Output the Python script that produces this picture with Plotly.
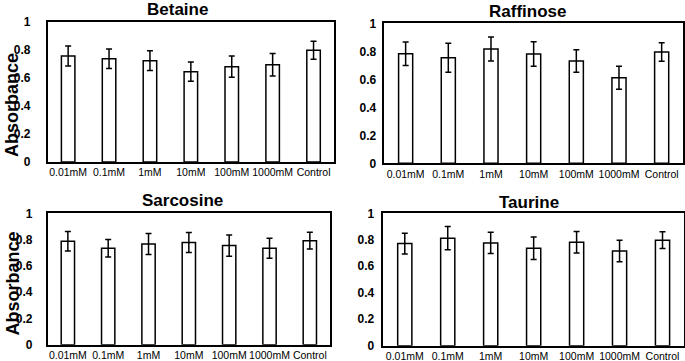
import plotly.graph_objects as go

categories = ["0.01mM", "0.1mM", "1mM", "10mM", "100mM", "1000mM", "Control"]

betaine_vals = [0.757, 0.738, 0.724, 0.645, 0.681, 0.695, 0.798]
betaine_err = [0.072, 0.070, 0.071, 0.069, 0.076, 0.080, 0.064]

raffinose_vals = [0.783, 0.754, 0.816, 0.781, 0.731, 0.611, 0.795]
raffinose_err = [0.084, 0.103, 0.086, 0.088, 0.080, 0.082, 0.066]

sarcosine_vals = [0.787, 0.734, 0.767, 0.777, 0.754, 0.734, 0.792]
sarcosine_err = [0.074, 0.066, 0.080, 0.076, 0.081, 0.076, 0.064]

taurine_vals = [0.771, 0.812, 0.776, 0.736, 0.781, 0.716, 0.797]
taurine_err = [0.078, 0.088, 0.080, 0.085, 0.081, 0.081, 0.063]

titles = ["Betaine", "Raffinose", "Sarcosine", "Taurine"]
y_ticks = [0, 0.2, 0.4, 0.6, 0.8, 1]
y_ticktext = ["0", "0.2", "0.4", "0.6", "0.8", "1"]

W, H = 685, 361
FONT = "Arial, Liberation Sans, sans-serif"

# panel boxes in pixels: (left, right, top, bottom)
boxes = [
    (47.7, 334.0, 22.0, 162.0),
    (384.3, 683.0, 23.3, 163.3),
    (47.7, 330.0, 213.3, 344.7),
    (383.3, 684.0, 213.3, 345.7),
]
title_pos = [(177, 10), (527, 11), (182, 200), (529, 202)]
ylab_gap = [13, 4, 11, 5]

series = [
    (betaine_vals, betaine_err),
    (raffinose_vals, raffinose_err),
    (sarcosine_vals, sarcosine_err),
    (taurine_vals, taurine_err),
]

fig = go.Figure()
layout = dict(
    width=W, height=H,
    margin=dict(l=0, r=0, t=0, b=0, autoexpand=False),
    paper_bgcolor="white", plot_bgcolor="white",
    showlegend=False,
    bargap=0.67,
    font=dict(family=FONT, color="black"),
    annotations=[],
)

for i, ((vals, errs), box) in enumerate(zip(series, boxes)):
    n = "" if i == 0 else str(i + 1)
    fig.add_trace(go.Bar(
        x=categories, y=vals,
        xaxis="x" + n, yaxis="y" + n,
        marker=dict(color="white", line=dict(color="black", width=1.5)),
        error_y=dict(type="data", array=errs, visible=True,
                     color="black", thickness=1.5, width=3),
    ))
    l, r, t, b = box
    layout["xaxis" + n] = dict(
        domain=[l / W, r / W], anchor="y" + n,
        type="category", categoryorder="array", categoryarray=categories,
        showline=True, linecolor="black", linewidth=1.5, mirror=True,
        showgrid=False, ticks="", zeroline=False, tickangle=0, automargin=False,
        tickfont=dict(family=FONT, size=10.5, color="black"),
    )
    layout["yaxis" + n] = dict(
        domain=[1 - b / H, 1 - t / H], anchor="x" + n,
        range=[0, 1], tickvals=y_ticks, ticktext=y_ticktext,
        showline=True, linecolor="black", linewidth=1.5, mirror=True,
        showgrid=False, ticks="outside", ticklen=ylab_gap[i],
        tickcolor="rgba(0,0,0,0)", zeroline=False, automargin=False,
        tickfont=dict(family=FONT, size=12, color="black", weight="bold"),
    )
    tx, ty = title_pos[i]
    layout["annotations"].append(dict(
        text=titles[i], x=tx / W, y=1 - ty / H, xref="paper", yref="paper",
        xanchor="center", yanchor="middle", showarrow=False,
        font=dict(family=FONT, size=17, color="black", weight="bold"),
    ))

for cy in (105, 283.5):
    layout["annotations"].append(dict(
        text="Absorbance", x=12 / W, y=1 - cy / H, xref="paper", yref="paper",
        xanchor="center", yanchor="middle", showarrow=False, textangle=-90,
        font=dict(family=FONT, size=18, color="black", weight="bold"),
    ))

fig.update_layout(**layout)
fig.write_html("out.html")
